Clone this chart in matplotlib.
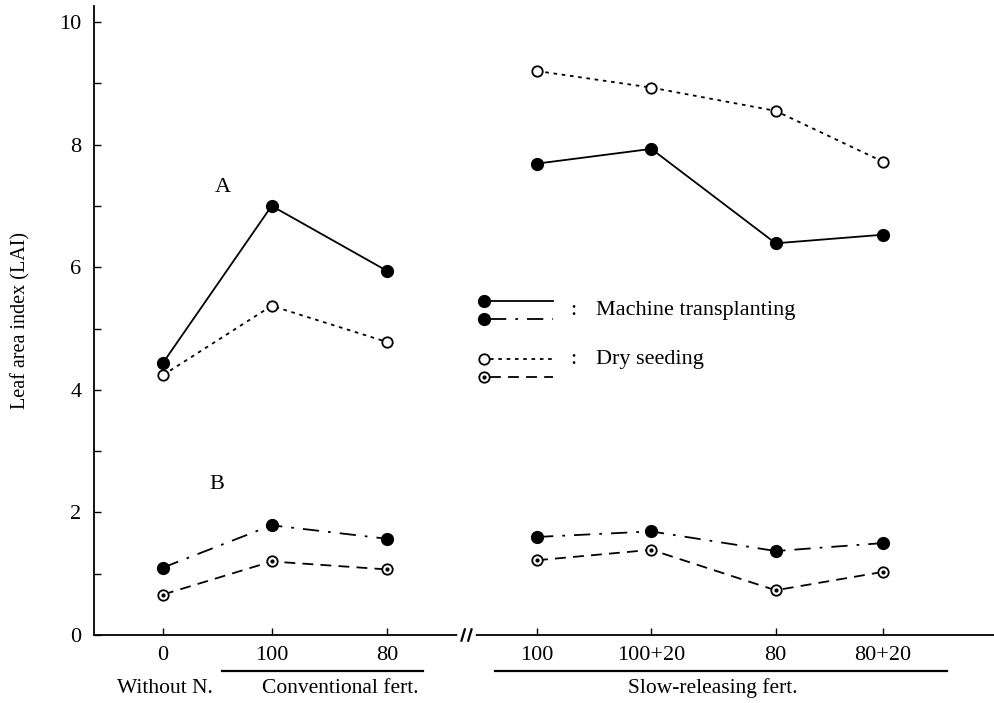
import matplotlib
matplotlib.use("Agg")
import matplotlib.pyplot as plt
import numpy as np

plt.rcParams['font.family'] = ['Liberation Serif', 'DejaVu Serif']

# ---- data ----
tick_labels = ["0", "100", "80", "100", "100+20", "80", "80+20"]
# category positions (hand-drawn spacing, broken axis between groups)
xpos = [0.0, 0.97, 2.0, 3.34, 4.36, 5.47, 6.43]
groups = [(0, 3), (3, 7)]  # index ranges drawn as separate line segments

A_machine = [4.44, 7.00, 5.94, 7.69, 7.93, 6.39, 6.53]
A_dry     = [4.24, 5.37, 4.78, 9.20, 8.93, 8.55, 7.72]
B_machine = [1.10, 1.79, 1.57, 1.60, 1.69, 1.37, 1.50]
B_dry     = [0.66, 1.20, 1.07, 1.22, 1.39, 0.73, 1.03]

group_names = ["Without N.", "Conventional fert.", "Slow-releasing fert."]
group_centers = [0.02, 1.58, 4.91]
underlines = [(0.53, 2.32), (2.96, 7.00)]

fig = plt.figure(figsize=(9.94, 7.03), dpi=100)
ax = fig.add_axes([0.0946, 0.0967, 0.9054, 0.8947])
ax.set_xlim(-0.616, 7.42)
ax.set_ylim(0, 10.26)

LW = 1.3
styles = {
    'A_machine': dict(ls='-', marker='o', mfc='black', mec='black', ms=8.5),
    'A_dry': dict(ls=(0, (2.0, 2.6)), marker='o', mfc='white', mec='black', ms=7.5, mew=1.3),
    'B_machine': dict(ls=(0, (9, 5, 1.5, 5)), marker='o', mfc='black', mec='black', ms=8.5),
    'B_dry': dict(ls=(0, (6, 4)), marker='o', mfc='white', mec='black', ms=7.5, mew=1.3),
}

x = np.array(xpos)
for name, vals in [('A_machine', A_machine), ('A_dry', A_dry),
                   ('B_machine', B_machine), ('B_dry', B_dry)]:
    v = np.array(vals)
    for (i0, i1) in groups:
        ax.plot(x[i0:i1], v[i0:i1], color='black', lw=LW, clip_on=False, **styles[name])
    if name == 'B_dry':
        ax.plot(x, v, ls='none', marker='o', ms=2, color='black')

# spines / ticks
ax.spines['top'].set_visible(False)
ax.spines['right'].set_visible(False)
ax.spines['left'].set_linewidth(1.3)
ax.spines['bottom'].set_linewidth(1.3)
ax.set_yticks([0, 2, 4, 6, 8, 10])
ax.set_yticks([1, 3, 5, 7, 9], minor=True)
ax.set_xticks(xpos, tick_labels)
ax.tick_params(axis='both', which='both', direction='in', length=5, width=1.0, labelsize=16)
ax.tick_params(axis='x', pad=8)
ax.tick_params(axis='y', pad=9)
ax.set_ylabel("Leaf area index (LAI)", fontsize=14.5)
ax.yaxis.set_label_coords(-0.071, 0.5)

# axis break mark
tr = ax.get_xaxis_transform()
bx = 2.71
ax.plot([bx - 0.06, bx + 0.06], [0, 0], color='white', lw=4, transform=tr, clip_on=False, zorder=5)
for dx in (-0.03, 0.03):
    ax.plot([bx + dx - 0.015, bx + dx + 0.015], [-0.009, 0.009], color='black', lw=1.6,
            transform=tr, clip_on=False, zorder=6)

# group underlines and names
for (a, b) in underlines:
    ax.plot([a, b], [-0.057, -0.057], color='black', lw=1.6, transform=tr, clip_on=False)
for name, cx in zip(group_names, group_centers):
    ax.text(cx, -0.085, name, transform=tr, ha='center', va='center', fontsize=15.5)

# panel letters
ax.text(0.53, 7.3, "A", fontsize=16, ha='center', va='center')
ax.text(0.48, 2.45, "B", fontsize=16, ha='center', va='center')

# custom legend
def key(y, st, x0=2.87, x1=3.48):
    s = dict(styles[st])
    ax.plot([x0 + 0.05, x1], [y, y], color='black', lw=LW, ls=s.pop('ls'))
    ax.plot([x0], [y], ls='none', color='black', **{k: v for k, v in s.items()})
    if st == 'B_dry':
        ax.plot([x0], [y], ls='none', marker='o', ms=2, color='black')

key(5.45, 'A_machine')
key(5.15, 'B_machine')
key(4.50, 'A_dry')
key(4.21, 'B_dry')
ax.text(3.66, 5.30, ":", fontsize=16, ha='center', va='center')
ax.text(3.87, 5.30, "Machine transplanting", fontsize=16, ha='left', va='center')
ax.text(3.66, 4.50, ":", fontsize=16, ha='center', va='center')
ax.text(3.87, 4.50, "Dry seeding", fontsize=16, ha='left', va='center')

fig.savefig("out.png", dpi=100)
